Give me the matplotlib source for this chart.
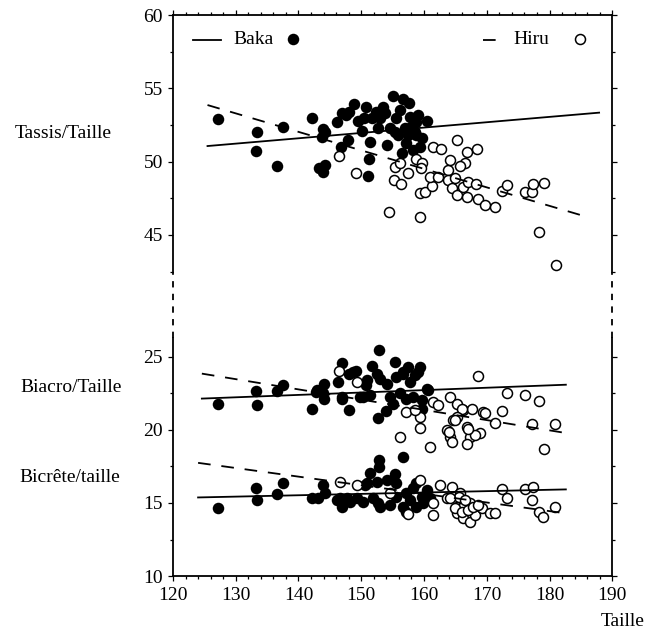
import matplotlib.pyplot as plt
from matplotlib.lines import Line2D
from matplotlib.ticker import MultipleLocator

plt.rcParams['font.family'] = ['Liberation Serif', 'DejaVu Serif']

# Tassis/Taille
tassis_baka_x = [127.2, 133.4, 133.2, 136.6, 137.6, 142.2, 143.2, 143.95, 144.3, 143.95,
                 144.2, 143.7, 146.2, 146.9, 148.1, 148.9, 146.8, 147.9, 150.1, 150.8,
                 151.2, 151.1, 151.4, 152.4, 153.0, 153.5, 154.05, 155.0, 155.4, 156.7,
                 157.6, 160.4, 158.3, 159.4, 154.6, 155.6, 157.0, 157.8, 157.2, 158.8,
                 158.8, 159.6, 155.9, 152.7, 151.7, 156.2, 158.0, 159.0, 153.8, 150.5,
                 149.5, 157.5, 156.5, 158.5, 147.5]
tassis_baka_y = [52.9, 52.05, 50.7, 49.73, 52.4, 53.0, 49.55, 49.3, 49.8, 52.2,
                 52.05, 51.67, 52.73, 53.35, 53.4, 53.94, 51.0, 51.5, 52.1, 53.76,
                 50.2, 49.05, 51.37, 53.4, 52.96, 53.76, 51.14, 54.5, 52.05, 54.3,
                 53.99, 52.8, 50.8, 51.0, 52.28, 52.96, 52.28, 53.07, 51.25, 52.73,
                 51.8, 51.6, 51.8, 52.28, 52.96, 53.5, 52.4, 53.2, 53.3, 53.0,
                 52.8, 51.8, 50.6, 52.0, 53.2]
tassis_hiru_x = [146.45, 149.2, 154.5, 155.4, 155.2, 156.3, 157.5, 159.4, 158.7, 159.6,
                 159.5, 159.4, 160.2, 161.2, 161.4, 162.65, 161.0, 162.3, 163.9, 163.9,
                 164.1, 165.2, 166.8, 166.5, 165.7, 168.5, 164.4, 164.9, 165.2, 166.25,
                 167.05, 166.8, 168.3, 168.65, 169.7, 171.3, 172.4, 173.2, 176.1, 177.15,
                 177.4, 179.1, 178.4, 181.0, 156.2]
tassis_hiru_y = [50.39, 49.25, 46.56, 49.66, 48.75, 48.46, 49.25, 46.24, 50.16, 49.9,
                 49.6, 47.84, 47.95, 48.34, 51.02, 50.9, 48.98, 48.98, 49.43, 48.75,
                 50.12, 51.48, 50.68, 49.9, 49.7, 50.85, 48.2, 48.87, 47.7, 48.3,
                 48.63, 47.6, 48.46, 47.47, 47.04, 46.88, 48.0, 48.4, 47.9, 47.9,
                 48.48, 48.52, 45.18, 42.94, 49.9]

# Biacro/Taille
biacro_baka_x = [127.2, 133.3, 133.4, 136.6, 137.6, 142.2, 142.8, 144.1, 144.1, 146.9,
                 146.35, 147.0, 148.1, 148.1, 149.1, 151.7, 152.8, 152.7, 153.9, 155.4,
                 150.8, 150.3, 156.7, 159.35, 160.7, 159.1, 148.7, 142.9, 143.95, 146.9,
                 150.9, 152.5, 154.05, 155.6, 156.7, 157.8, 158.6, 156.2, 157.2, 158.3,
                 159.6, 160.4, 151.4, 149.8, 154.6, 155.1, 159.6, 153.0, 157.5]
biacro_baka_y = [21.81, 22.67, 21.7, 22.65, 23.1, 21.42, 22.6, 23.13, 22.15, 24.59,
                 23.29, 22.15, 21.35, 23.86, 24.04, 24.36, 25.5, 20.79, 21.3, 24.66,
                 23.06, 22.26, 23.86, 24.32, 22.72, 23.97, 23.97, 22.72, 22.5, 22.26,
                 23.4, 23.86, 23.18, 23.63, 23.97, 23.29, 23.75, 22.5, 22.15, 22.26,
                 22.04, 22.84, 22.38, 22.26, 22.26, 21.81, 21.47, 23.5, 24.3]
biacro_hiru_x = [146.5, 149.3, 157.2, 159.35, 159.35, 156.2, 161.0, 168.65, 161.5, 162.3,
                 164.1, 165.2, 166.25, 167.6, 169.4, 164.65, 163.6, 164.1, 166.8, 167.3,
                 168.9, 173.2, 176.1, 178.4, 180.9, 179.1, 177.15, 172.5, 171.3, 169.7,
                 168.1, 166.95, 166.8, 164.5, 164.0, 166.0, 165.2, 164.9, 158.55]
biacro_hiru_y = [24.02, 23.29, 21.24, 20.9, 20.17, 19.49, 18.84, 23.68, 21.93, 21.7,
                 22.26, 21.81, 21.35, 21.47, 21.24, 20.67, 19.99, 19.53, 20.21, 19.53,
                 19.76, 22.5, 22.38, 21.97, 20.4, 18.67, 20.44, 21.29, 20.49, 21.13,
                 19.69, 20.1, 19.03, 19.19, 19.87, 21.47, 20.9, 20.67, 21.35]

# Bicrête/taille
bicrete_baka_x = [127.2, 133.3, 133.4, 136.6, 137.6, 142.1, 143.15, 143.95, 144.2, 146.9,
                  146.6, 148.2, 150.6, 151.4, 152.8, 152.9, 156.6, 155.4, 152.7, 146.1,
                  147.7, 150.9, 152.5, 154.05, 155.6, 149.3, 150.3, 151.9, 153.0, 154.6,
                  155.6, 156.7, 157.2, 157.8, 158.3, 158.8, 159.6, 159.9, 160.4, 160.95,
                  157.2, 158.8]
bicrete_baka_y = [14.63, 16.0, 15.2, 15.6, 16.34, 15.31, 15.31, 16.22, 15.66, 14.74,
                  15.31, 15.08, 16.22, 17.02, 17.95, 17.47, 18.16, 17.0, 14.97, 15.2,
                  15.31, 16.34, 16.45, 16.57, 16.34, 15.31, 15.08, 15.31, 14.74, 14.86,
                  15.42, 14.74, 14.4, 15.2, 16.0, 16.34, 15.42, 14.97, 15.88, 15.31,
                  15.66, 14.74]
bicrete_hiru_x = [146.6, 149.3, 154.6, 159.35, 161.5, 161.5, 157.5, 162.5, 164.4, 165.7,
                  163.6, 165.2, 166.25, 167.3, 168.4, 165.2, 166.25, 167.3, 168.1, 169.2,
                  170.5, 165.5, 164.1, 164.9, 166.0, 167.05, 167.85, 168.65, 166.5, 171.3,
                  172.5, 173.2, 176.1, 177.3, 177.15, 178.4, 179.0, 180.9]
bicrete_hiru_y = [16.45, 16.22, 15.66, 16.57, 14.97, 14.17, 14.24, 16.22, 16.11, 15.66,
                  15.31, 14.74, 14.74, 14.97, 14.74, 14.29, 13.95, 13.71, 14.17, 14.63,
                  14.29, 15.42, 15.31, 14.63, 14.4, 14.51, 14.74, 14.86, 15.2, 14.29,
                  15.93, 15.31, 15.93, 16.11, 15.2, 14.4, 14.06, 14.7]

# droites de régression (début, fin)
tassis_baka_line = ([125.5, 187.9], [51.07, 53.35])
tassis_hiru_line = ([125.5, 186.2], [53.87, 46.2])
biacro_baka_line = ([124.6, 182.6], [22.15, 23.1])
biacro_hiru_line = ([124.6, 182.5], [23.86, 19.8])
bicrete_baka_line = ([124.0, 182.6], [15.38, 15.93])
bicrete_hiru_line = ([124.0, 182.6], [17.75, 14.29])

FS = 14
DASH = (0, (7, 6))

fig = plt.figure(figsize=(6.6, 6.32), dpi=100)
ax_top = fig.add_axes([0.2621, 0.5704, 0.6656, 0.4054])
ax_bot = fig.add_axes([0.2621, 0.0886, 0.6656, 0.3766])


def draw(ax, bx, by, hx, hy, bline, hline):
    ax.plot(bx, by, 'o', color='black', ms=8.3, mew=0, zorder=2)
    ax.plot(hx, hy, 'o', mfc='white', mec='black', ms=7.2, mew=1.1, zorder=3)
    ax.plot(bline[0], bline[1], '-', color='black', lw=1.3, zorder=4)
    ax.plot(hline[0], hline[1], color='black', lw=1.3, linestyle=DASH, zorder=4)


draw(ax_top, tassis_baka_x, tassis_baka_y, tassis_hiru_x, tassis_hiru_y,
     tassis_baka_line, tassis_hiru_line)
draw(ax_bot, biacro_baka_x, biacro_baka_y, biacro_hiru_x, biacro_hiru_y,
     biacro_baka_line, biacro_hiru_line)
draw(ax_bot, bicrete_baka_x, bicrete_baka_y, bicrete_hiru_x, bicrete_hiru_y,
     bicrete_baka_line, bicrete_hiru_line)

ax_top.set_ylim(42.5, 60)
ax_bot.set_ylim(10, 26.3)
for ax in (ax_top, ax_bot):
    ax.set_xlim(120, 190)
    ax.xaxis.set_major_locator(MultipleLocator(10))
    ax.xaxis.set_minor_locator(MultipleLocator(2))
    ax.yaxis.set_major_locator(MultipleLocator(5))
    ax.yaxis.set_minor_locator(MultipleLocator(2.5))
    for s in ax.spines.values():
        s.set_linewidth(1.3)
    ax.tick_params(which='both', direction='out', width=0.9, labelsize=FS, pad=3.5,
                   right=True, labelright=False)
    ax.tick_params(which='major', length=3.8)
    ax.tick_params(which='minor', length=2.2)

ax_top.spines['bottom'].set_visible(False)
ax_top.tick_params(axis='x', which='both', bottom=False, labelbottom=False,
                   top=True, labeltop=False)
ax_bot.spines['top'].set_visible(False)
ax_bot.tick_params(axis='x', which='both', top=False, pad=4)

# axes interrompus : pointillés entre les deux panneaux
for xf in (0.2621, 0.2621 + 0.6656):
    fig.add_artist(Line2D([xf, xf], [0.4652, 0.5704], transform=fig.transFigure,
                          color='black', lw=1.3, linestyle=(0, (3.5, 3.5))))

# légende
ax_top.plot([0.046, 0.109], [0.904, 0.904], '-', color='black', lw=1.3,
            transform=ax_top.transAxes)
ax_top.text(0.137, 0.904, 'Baka', fontsize=FS, va='center', transform=ax_top.transAxes)
ax_top.plot([0.273], [0.906], 'o', color='black', ms=8.3, mew=0,
            transform=ax_top.transAxes)
ax_top.plot([0.705, 0.758], [0.904, 0.904], color='black', lw=1.3, linestyle=DASH,
            transform=ax_top.transAxes)
ax_top.text(0.776, 0.904, 'Hiru', fontsize=FS, va='center', transform=ax_top.transAxes)
ax_top.plot([0.9265], [0.906], 'o', mfc='white', mec='black', ms=7.2, mew=1.1,
            transform=ax_top.transAxes)

fig.text(15 / 660, 1 - 133 / 632, 'Tassis/Taille', fontsize=FS, va='center')
fig.text(20 / 660, 1 - 387 / 632, 'Biacro/Taille', fontsize=FS, va='center')
fig.text(19 / 660, 1 - 478 / 632, 'Bicrête/taille', fontsize=FS, va='center')
fig.text(645 / 660, 1 - 622 / 632, 'Taille', fontsize=FS, va='center', ha='right')

fig.savefig('out.png', dpi=100)
